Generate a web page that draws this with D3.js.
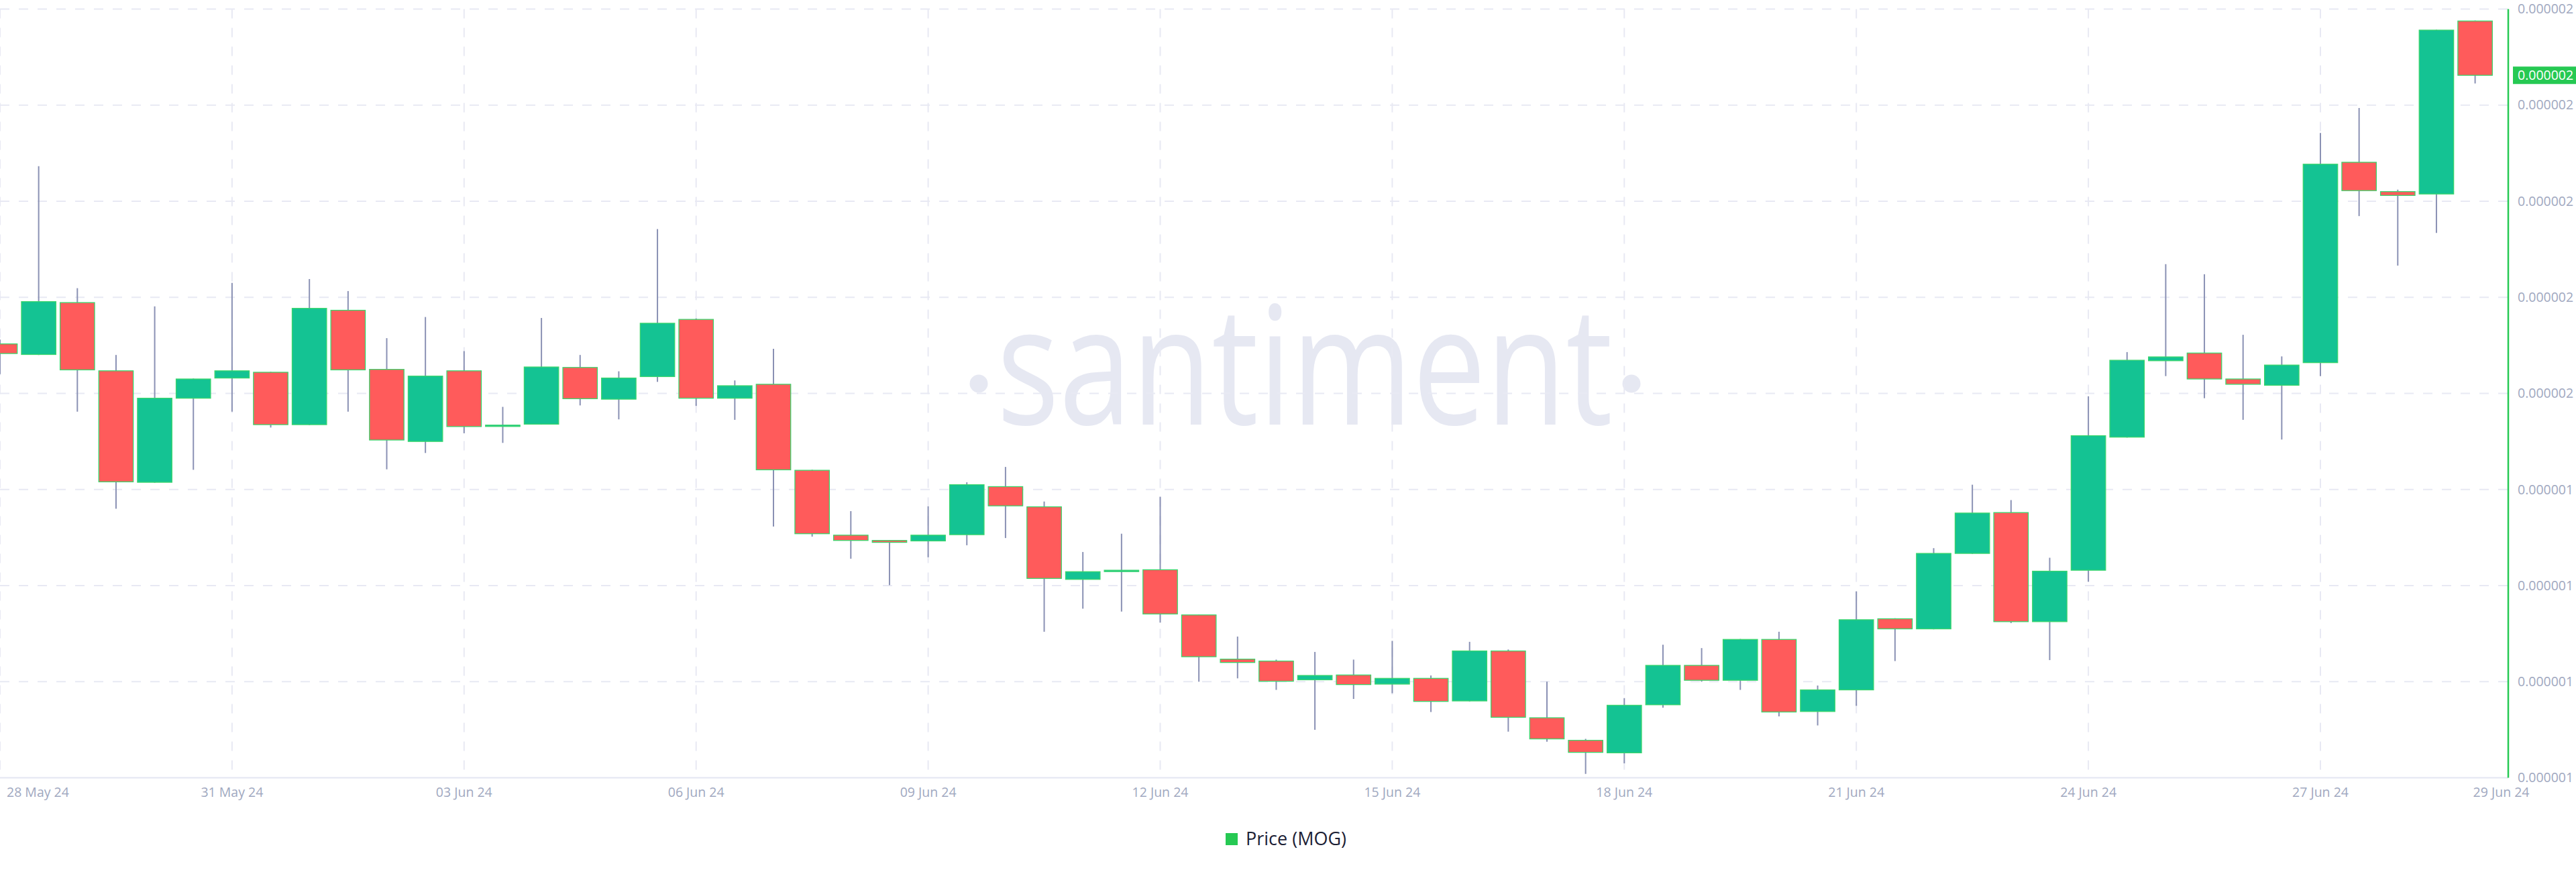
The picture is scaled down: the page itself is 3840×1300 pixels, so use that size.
<!DOCTYPE html>
<html>
<head>
<meta charset="utf-8">
<script src="https://cdn.jsdelivr.net/npm/d3@7/dist/d3.min.js"></script>
<style>
  html, body { margin: 0; padding: 0; background: #ffffff; }
  svg { display: block; }
</style>
</head>
<body>
<script>
// ---- DATA (12h candles, MOG price in USD) ----
const startTime = "2024-05-28T00:00:00Z";
const opens  = [1.703e-6,1.681e-6,1.789e-6,1.647e-6,1.415e-6,1.590e-6,1.632e-6,1.644e-6,1.535e-6,1.773e-6,
                1.650e-6,1.500e-6,1.647e-6,1.532e-6,1.536e-6,1.654e-6,1.588e-6,1.635e-6,1.754e-6,1.590e-6,
                1.619e-6,1.440e-6,1.305e-6,1.294e-6,1.293e-6,1.306e-6,1.406e-6,1.364e-6,1.213e-6,1.230e-6,
                1.233e-6,1.139e-6,1.047e-6,1.043e-6,1.004e-6,1.014e-6,0.995e-6,1.007e-6,0.960e-6,1.064e-6,
                0.925e-6,0.878e-6,0.852e-6,0.952e-6,1.034e-6,1.003e-6,1.088e-6,0.938e-6,0.983e-6,1.131e-6,
                1.110e-6,1.267e-6,1.352e-6,1.125e-6,1.232e-6,1.509e-6,1.668e-6,1.684e-6,1.630e-6,1.617e-6,
                1.664e-6,2.081e-6,2.020e-6,2.015e-6,2.375e-6];
const highs  = [1.712e-6,2.073e-6,1.819e-6,1.680e-6,1.781e-6,1.631e-6,1.830e-6,1.645e-6,1.838e-6,1.813e-6,
                1.715e-6,1.759e-6,1.688e-6,1.572e-6,1.757e-6,1.680e-6,1.646e-6,1.942e-6,1.756e-6,1.627e-6,
                1.693e-6,1.441e-6,1.355e-6,1.295e-6,1.365e-6,1.415e-6,1.447e-6,1.375e-6,1.270e-6,1.308e-6,
                1.385e-6,1.140e-6,1.094e-6,1.046e-6,1.062e-6,1.046e-6,1.085e-6,1.013e-6,1.083e-6,1.067e-6,
                1.000e-6,0.881e-6,0.966e-6,1.077e-6,1.070e-6,1.089e-6,1.104e-6,0.992e-6,1.188e-6,1.132e-6,
                1.278e-6,1.410e-6,1.378e-6,1.258e-6,1.594e-6,1.686e-6,1.869e-6,1.848e-6,1.722e-6,1.677e-6,
                2.142e-6,2.194e-6,2.024e-6,2.357e-6,2.376e-6];
const lows   = [1.640e-6,1.680e-6,1.562e-6,1.360e-6,1.414e-6,1.441e-6,1.562e-6,1.529e-6,1.534e-6,1.562e-6,
                1.442e-6,1.476e-6,1.517e-6,1.497e-6,1.535e-6,1.575e-6,1.546e-6,1.624e-6,1.574e-6,1.545e-6,
                1.323e-6,1.302e-6,1.256e-6,1.201e-6,1.259e-6,1.284e-6,1.299e-6,1.104e-6,1.152e-6,1.146e-6,
                1.123e-6,1.000e-6,1.007e-6,0.983e-6,0.900e-6,0.964e-6,0.976e-6,0.937e-6,0.959e-6,0.896e-6,
                0.875e-6,0.808e-6,0.830e-6,0.946e-6,1.000e-6,0.983e-6,0.928e-6,0.909e-6,0.950e-6,1.043e-6,
                1.109e-6,1.266e-6,1.122e-6,1.045e-6,1.208e-6,1.508e-6,1.636e-6,1.590e-6,1.545e-6,1.504e-6,
                1.636e-6,1.969e-6,1.866e-6,1.934e-6,2.245e-6];
const closes = [1.683e-6,1.791e-6,1.649e-6,1.416e-6,1.590e-6,1.630e-6,1.647e-6,1.535e-6,1.777e-6,1.649e-6,
                1.503e-6,1.636e-6,1.531e-6,1.534e-6,1.655e-6,1.589e-6,1.632e-6,1.746e-6,1.590e-6,1.616e-6,
                1.441e-6,1.308e-6,1.294e-6,1.290e-6,1.305e-6,1.410e-6,1.366e-6,1.215e-6,1.229e-6,1.232e-6,
                1.141e-6,1.052e-6,1.040e-6,1.001e-6,1.013e-6,0.994e-6,1.007e-6,0.959e-6,1.064e-6,0.926e-6,
                0.881e-6,0.853e-6,0.951e-6,1.034e-6,1.003e-6,1.088e-6,0.937e-6,0.983e-6,1.129e-6,1.110e-6,
                1.267e-6,1.351e-6,1.125e-6,1.230e-6,1.512e-6,1.669e-6,1.676e-6,1.630e-6,1.619e-6,1.659e-6,
                2.077e-6,2.022e-6,2.012e-6,2.356e-6,2.262e-6];
const yTickValues = [0.8e-6,1.0e-6,1.2e-6,1.4e-6,1.6e-6,1.8e-6,2.0e-6,2.2e-6,2.4e-6];
const gridDates  = ["2024-05-28","2024-05-31","2024-06-03","2024-06-06","2024-06-09","2024-06-12",
                    "2024-06-15","2024-06-18","2024-06-21","2024-06-24","2024-06-27"];
const tickDates  = ["2024-05-28","2024-05-31","2024-06-03","2024-06-06","2024-06-09","2024-06-12",
                    "2024-06-15","2024-06-18","2024-06-21","2024-06-24","2024-06-27","2024-06-29"];
const seriesName = "Price (MOG)";
const watermark = "santiment";

// ---- LAYOUT ----
const W = 3840, H = 1300;
const plotLeft = 0, plotRight = 3739, plotTop = 13.4, plotBottom = 1159.6;
const UP = "#14c393", DOWN = "#ff5b5b", WICK = "#8a91b4", GRID = "#e8e9f3", LABEL = "#a0a8c0";
const FONT = "'Open Sans', 'Noto Sans', sans-serif";

const parse = d3.utcParse("%Y-%m-%d");
const t0 = new Date(startTime);
const candles = opens.map((o, i) => ({
  t: d3.utcHour.offset(t0, 12 * i), o, h: highs[i], l: lows[i], c: closes[i]
}));

const x = d3.scaleUtc()
  .domain([parse("2024-05-28"), parse("2024-06-29")])
  .range([0, 3689.6]);
const y = d3.scaleLinear()
  .domain([yTickValues[0], yTickValues[yTickValues.length - 1]])
  .range([plotBottom, plotTop]);
const bodyW = 51.4;

const svg = d3.select("body").append("svg")
  .attr("width", W).attr("height", H)
  .attr("viewBox", `0 0 ${W} ${H}`);
svg.append("rect").attr("width", W).attr("height", H).attr("fill", "#ffffff");

svg.append("defs").append("clipPath").attr("id", "plotClip")
  .append("rect").attr("x", plotLeft).attr("y", 0)
  .attr("width", plotRight - plotLeft).attr("height", plotBottom + 2);

// watermark
const wm = svg.append("g").attr("class", "watermark");
wm.append("text")
  .attr("x", 1486).attr("y", 633)
  .attr("textLength", 918).attr("lengthAdjust", "spacingAndGlyphs")
  .attr("font-family", FONT).attr("font-size", 245).attr("font-weight", 400)
  .attr("fill", "#e6e8f2").text(watermark);
wm.selectAll("circle").data([1459, 2432]).join("circle")
  .attr("cx", d => d).attr("cy", 572).attr("r", 13.5).attr("fill", "#e6e8f2");

// grid
const grid = svg.append("g");
grid.selectAll("line.h").data(yTickValues.slice(1)).join("line")
  .attr("class", "h")
  .attr("x1", plotLeft).attr("x2", plotRight)
  .attr("y1", d => y(d)).attr("y2", d => y(d))
  .attr("stroke", GRID).attr("stroke-width", 2).attr("stroke-dasharray", "14,14");
grid.selectAll("line.v").data(gridDates.map(parse)).join("line")
  .attr("class", "v")
  .attr("x1", d => x(d)).attr("x2", d => x(d))
  .attr("y1", plotTop).attr("y2", plotBottom)
  .attr("stroke", GRID).attr("stroke-width", 2).attr("stroke-dasharray", "14,14");

// bottom axis line
svg.append("line")
  .attr("x1", plotLeft).attr("x2", plotRight)
  .attr("y1", plotBottom).attr("y2", plotBottom)
  .attr("stroke", "#e4e6f2").attr("stroke-width", 2);

// candles
const cg = svg.append("g").attr("clip-path", "url(#plotClip)");
cg.selectAll("line.wick").data(candles).join("line")
  .attr("class", "wick")
  .attr("x1", d => x(d.t)).attr("x2", d => x(d.t))
  .attr("y1", d => y(d.h)).attr("y2", d => y(d.l))
  .attr("stroke", WICK).attr("stroke-width", 2);
cg.selectAll("rect.body").data(candles).join("rect")
  .attr("class", "body")
  .attr("x", d => x(d.t) - bodyW / 2)
  .attr("width", bodyW)
  .attr("y", d => y(Math.max(d.o, d.c)))
  .attr("height", d => Math.max(2, Math.abs(y(d.o) - y(d.c))))
  .attr("fill", d => d.c >= d.o ? UP : DOWN)
  .attr("stroke", "#3ad56c").attr("stroke-width", 1.3);

// right axis
svg.append("line")
  .attr("x1", plotRight).attr("x2", plotRight)
  .attr("y1", plotTop).attr("y2", plotBottom)
  .attr("stroke", "#26c953").attr("stroke-width", 2.5);
const fmt = d3.format(".6f");
const yAxis = d3.axisRight(y).tickValues(yTickValues).tickFormat(fmt).tickSize(0).tickPadding(14);
const yg = svg.append("g").attr("transform", `translate(${plotRight},0)`).call(yAxis);
yg.select(".domain").remove();
yg.selectAll("text")
  .attr("fill", LABEL).attr("font-family", FONT).attr("font-size", 19.5);

// current price label
const last = candles[candles.length - 1];
const py = y(last.c);
svg.append("rect")
  .attr("x", 3746).attr("y", py - 13).attr("width", W - 3746).attr("height", 26)
  .attr("fill", "#26c953");
svg.append("text")
  .attr("x", 3753).attr("y", py).attr("dy", "0.35em")
  .attr("fill", "#ffffff").attr("font-family", FONT).attr("font-size", 19.5)
  .text(fmt(last.c));

// x labels (edge labels are kept inside the chart)
const xl = svg.append("g");
const fmtX = d3.utcFormat("%d %b %y");
const tickParsed = tickDates.map(parse);
xl.selectAll("text").data(tickParsed).join("text")
  .attr("y", 1181).attr("dy", "0.35em")
  .attr("fill", LABEL).attr("font-family", FONT).attr("font-size", 19.5)
  .attr("text-anchor", (d, i) => i === 0 ? "start" : (i === tickParsed.length - 1 ? "start" : "middle"))
  .attr("x", (d, i) => i === 0 ? x(d) + 10 : (i === tickParsed.length - 1 ? x(d) - 3 : x(d)))
  .text(d => fmtX(d));

// legend
const lg = svg.append("g");
lg.append("rect").attr("x", 1827).attr("y", 1242).attr("width", 18).attr("height", 18).attr("fill", "#26c953");
lg.append("text").attr("x", 1857).attr("y", 1251).attr("dy", "0.35em")
  .attr("fill", "#1c2135").attr("font-family", FONT).attr("font-size", 27)
  .text(seriesName);
</script>
</body>
</html>
